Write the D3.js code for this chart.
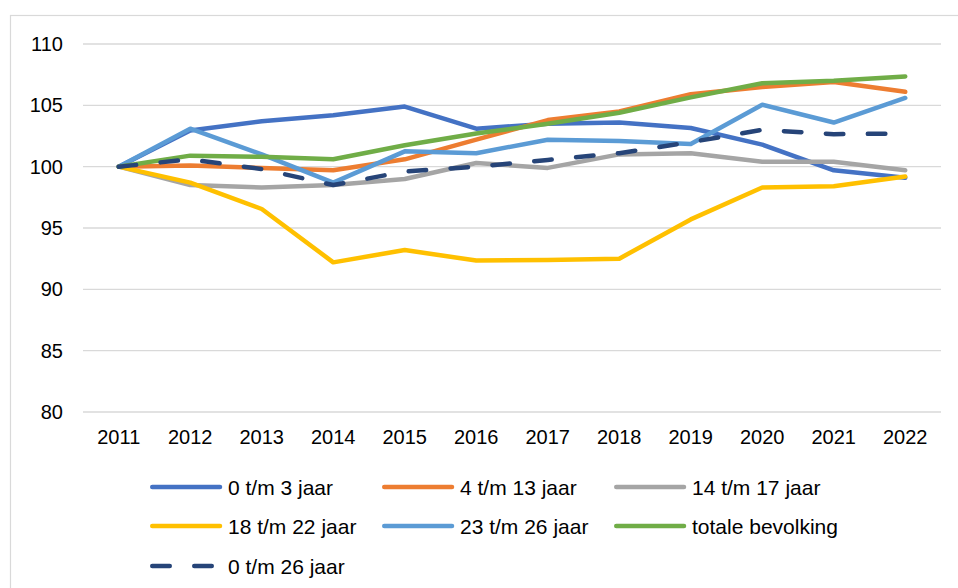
<!DOCTYPE html>
<html><head><meta charset="utf-8">
<script src="https://cdn.jsdelivr.net/npm/d3@7"></script>
<style>body{margin:0;background:#fff}svg{display:block}</style>
</head><body>
<svg id="c" width="958" height="588"></svg>
<script>
const years = ["2011","2012","2013","2014","2015","2016","2017","2018","2019","2020","2021","2022"];
const yTicks = [80,85,90,95,100,105,110];
const seriesNames = ["0 t/m 3 jaar","4 t/m 13 jaar","14 t/m 17 jaar","18 t/m 22 jaar","23 t/m 26 jaar","totale bevolking","0 t/m 26 jaar"];
const s0_3   = [100,102.95,103.7,104.2,104.9,103.1,103.5,103.6,103.15,101.8,99.7,99.1];
const s4_13  = [100,100.1,99.9,99.7,100.6,102.2,103.8,104.5,105.9,106.5,106.9,106.1];
const s14_17 = [100,98.5,98.3,98.5,99.0,100.3,99.9,101.0,101.1,100.4,100.4,99.7];
const s18_22 = [100,98.7,96.55,92.2,93.2,92.35,92.4,92.5,95.7,98.3,98.4,99.2];
const s23_26 = [100,103.1,101.0,98.7,101.25,101.1,102.2,102.1,101.85,105.05,103.6,105.6];
const sTotaal= [100,100.9,100.8,100.6,101.75,102.7,103.5,104.4,105.65,106.8,107.0,107.35];
const s0_26  = [100,100.6,99.8,98.5,99.6,100.0,100.55,101.1,102.0,103.0,102.65,102.7];
const allSeries = [s0_3,s4_13,s14_17,s18_22,s23_26,sTotaal,s0_26];
const colors = ["#4472C4","#ED7D31","#A5A5A5","#FFC000","#5B9BD5","#70AD47","#264478"];

const svg = d3.select("#c");
const font = "'Liberation Sans', Arial, sans-serif";
svg.append("rect").attr("x",10.5).attr("y",15.5).attr("width",970).attr("height",620)
  .attr("fill","#fff").attr("stroke","#d9d9d9").attr("stroke-width",1.2);

const x = d3.scaleBand().domain(years).range([83,941]);
const y = d3.scaleLinear().domain([80,110]).range([412,44]);

const g = svg.append("g");
g.selectAll("line.grid").data(yTicks).join("line")
  .attr("x1",83).attr("x2",941).attr("y1",d=>y(d)).attr("y2",d=>y(d))
  .attr("stroke","#d9d9d9").attr("stroke-width",1.3);

const yAxis = svg.append("g").attr("transform","translate(83,0)")
  .call(d3.axisLeft(y).tickValues(yTicks).tickSize(0).tickPadding(20));
yAxis.select(".domain").remove();
yAxis.selectAll("text").attr("font-family",font).attr("font-size",20).attr("fill","#000");

const xAxis = svg.append("g").attr("transform","translate(0,412)")
  .call(d3.axisBottom(x).tickSize(0).tickPadding(18));
xAxis.select(".domain").remove();
xAxis.selectAll("text").attr("font-family",font).attr("font-size",20).attr("fill","#000");

const line = d3.line().x((d,i)=>x(years[i])+x.bandwidth()/2).y(d=>y(d));
allSeries.forEach((s,i)=>{
  const p = svg.append("path").datum(s).attr("d",line).attr("fill","none")
    .attr("stroke",colors[i]).attr("stroke-width",4.5).attr("stroke-linejoin","round").attr("stroke-linecap","round");
  if(i===6) p.attr("stroke-dasharray","17.5,24.5");
});

// legend
const legPos = [[150,487],[382,487],[614,487],[150,526],[382,526],[614,526],[150,566]];
seriesNames.forEach((n,i)=>{
  const [lx,ly] = legPos[i];
  const l = svg.append("line").attr("x1",lx+2.25).attr("x2",lx+70).attr("y1",ly).attr("y2",ly)
    .attr("stroke",colors[i]).attr("stroke-width",4.5).attr("stroke-linecap","round");
  if(i===6) l.attr("stroke-dasharray","17.5,24.5");
  svg.append("text").attr("x",lx+78).attr("y",ly).attr("dy","0.36em")
    .attr("font-family",font).attr("font-size",21).attr("fill","#000").text(n);
});
</script>
</body></html>
